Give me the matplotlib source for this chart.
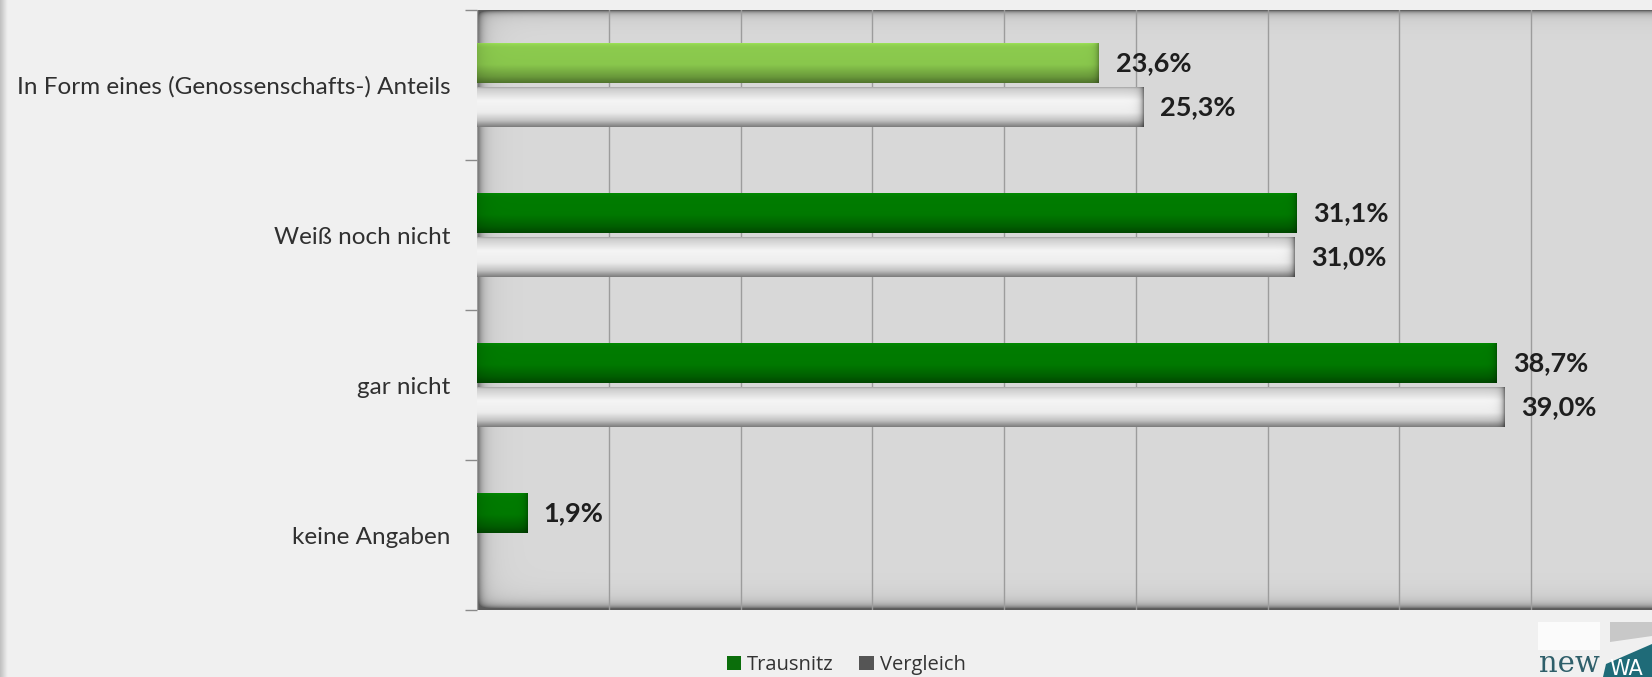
import numpy as np
import matplotlib
matplotlib.use("Agg")
import matplotlib.pyplot as plt
from matplotlib.patches import Patch, Rectangle, Polygon

# ---------------- data ----------------
categories = ["In Form eines (Genossenschafts-) Anteils", "Weiß noch nicht",
              "gar nicht", "keine Angaben"]
trausnitz = [23.6, 31.1, 38.7, 1.9]
vergleich = [25.3, 31.0, 39.0, np.nan]
series_names = ["Trausnitz", "Vergleich"]
trausnitz_colors = ["#8CCB4E", "#007C00", "#007C00", "#007C00"]
x_ticks = [0, 5, 10, 15, 20, 25, 30, 35, 40, 45]

W, H, DPI = 1652, 677, 100
fig = plt.figure(figsize=(W / DPI, H / DPI), dpi=DPI)
fig.patch.set_facecolor("#f0f0f0")

# left page shadow stripe
sx = np.linspace(0, 1, 40)
stripe = np.clip(0.75 + 0.20 * sx, 0, 0.94)[None, :, None] * np.ones((1, 1, 3))
bgax = fig.add_axes([0, 0, 8 / W, 1])
bgax.imshow(stripe, aspect="auto", extent=(0, 1, 0, 1))
bgax.axis("off")

L, R, T, B = 477, 1663, 10, 610
ax = fig.add_axes([L / W, (H - B) / H, (R - L) / W, (B - T) / H])
ax.set_xlim(0, 45)
ax.set_ylim(3.5, -0.5)

# plot-area background with inner shadows
aw, ah = R - L, B - T
xx = np.arange(aw)[None, :]
yy = np.arange(ah)[:, None]
base = 217.0
val = base - 95 * np.exp(-xx / 4.0) - 25 * np.exp(-xx / 14.0)
val = val - 100 * np.exp(-yy / 2.5) - 20 * np.exp(-yy / 10.0)
db = (ah - 1 - yy)
val = val - 120 * np.exp(-db / 3.0) - 40 * np.exp(-db / 10.0)
val = np.clip(val, 90, 230) / 255.0
bgimg = np.repeat(val[:, :, None], 3, axis=2)
ax.imshow(bgimg, aspect="auto", extent=(0, 1, 0, 1), transform=ax.transAxes,
          zorder=0.1, interpolation="bilinear")

for s in ax.spines.values():
    s.set_visible(False)
ax.set_xticks(x_ticks)
ax.tick_params(axis="x", length=0, labelbottom=False)
ax.xaxis.grid(True, color="#9c9c9c", lw=1.0)
ax.set_axisbelow(True)

y = np.arange(len(categories))
h = 0.268
off = 0.148
bars_t = ax.barh(y - off, trausnitz, height=h, color=trausnitz_colors, zorder=2)
bars_v = ax.barh(y + off, vergleich, height=h, color="#f0f0f0", zorder=2)

fig.canvas.draw()


def shade(patch, kind):
    x0, y0 = patch.get_xy()
    w, hh = patch.get_width(), patch.get_height()
    if not np.isfinite(w) or w <= 0:
        return
    p0 = ax.transData.transform((x0, y0))
    p1 = ax.transData.transform((x0 + w, y0 + hh))
    npx = max(int(abs(p1[0] - p0[0])), 2)
    npy = max(int(abs(p1[1] - p0[1])), 2)
    t = np.linspace(0, 1, npy)[:, None]
    c = np.arange(npx)[None, :]
    dr = (npx - 1 - c)
    if kind == "white":
        prof = np.interp(t, [0, 0.06, 0.35, 0.65, 0.85, 1.0],
                         [0.60, 0.80, 0.96, 0.93, 0.76, 0.50])
        edge = 1 - 0.45 * np.exp(-dr / 3.0)
        v = prof * edge
        img = np.repeat(v[:, :, None], 3, axis=2)
    else:
        rgb = np.array(matplotlib.colors.to_rgb(patch.get_facecolor()))
        prof = np.interp(t, [0, 0.05, 0.12, 0.55, 0.85, 1.0],
                         [1.15, 1.05, 1.0, 0.98, 0.76, 0.58])
        edge = 1 - 0.28 * np.exp(-dr / 3.0)
        left = 1 - 0.12 * np.exp(-c / 8.0)
        v = prof * edge * left
        img = np.clip(v[:, :, None] * rgb[None, None, :], 0, 1)
    im = ax.imshow(img, aspect="auto", origin="upper",
                   extent=(x0, x0 + w, y0 + hh, y0), zorder=2.5,
                   interpolation="bilinear")
    im.set_clip_path(patch)


for p in bars_t:
    shade(p, "green")
for p in bars_v:
    shade(p, "white")
ax.set_xlim(0, 45)
ax.set_ylim(3.5, -0.5)


def fmt(v):
    return f"{v:.1f}".replace(".", ",") + "%"


for bars, vals in ((bars_t, trausnitz), (bars_v, vergleich)):
    for p, v in zip(bars, vals):
        if not np.isfinite(v):
            continue
        ax.annotate(fmt(v), xy=(v, p.get_y() + p.get_height() / 2),
                    xytext=(12, 0), textcoords="offset points",
                    ha="left", va="center", fontsize=19.5, fontweight="bold",
                    family="Lato", color="#1e1e1e", zorder=5)

ax.set_yticks(y)
ax.set_yticklabels(categories, fontsize=17.5, family="Lato", color="#303030")
ax.tick_params(axis="y", length=0, pad=19)
ax.set_yticks(np.arange(-0.5, len(categories), 1.0), minor=True)
ax.tick_params(axis="y", which="minor", length=9, color="#8a8a8a", width=1)

# legend
handles = [Patch(facecolor="#0b6e0b", edgecolor="none"),
           Patch(facecolor="#555555", edgecolor="none")]
leg = fig.legend(handles, series_names, loc="center", ncol=2,
                 bbox_to_anchor=(846 / W, 1 - 665 / H), frameon=False,
                 prop={"family": "Open Sans", "size": 14.5},
                 handlelength=0.7, handleheight=0.7, handletextpad=0.3,
                 columnspacing=1.3)
for txt in leg.get_texts():
    txt.set_color("#333333")

# logo
fig.patches.append(Rectangle((1538 / W, 1 - 650 / H), 62 / W, 28 / H,
                             transform=fig.transFigure, facecolor="#fbfbfb",
                             edgecolor="none"))
fig.patches.append(Polygon([(1610 / W, 1 - 642 / H), (1610 / W, 1 - 622 / H),
                            (1652 / W, 1 - 622 / H), (1652 / W, 1 - 636 / H)],
                           closed=True, transform=fig.transFigure,
                           facecolor="#c8c8c8", edgecolor="none"))
fig.patches.append(Polygon([(1603 / W, 0), (1606 / W, 1 - 664 / H),
                            (1652 / W, 1 - 644 / H), (1652 / W, 0)],
                           closed=True, transform=fig.transFigure,
                           facecolor="#1f6b78", edgecolor="none"))
fig.text(1539 / W, 1 - 672 / H, "new", family="DejaVu Serif", fontsize=21,
         color="#2f5f6a", ha="left", va="baseline")
fig.text(1609 / W, 1 - 675 / H, "WA", family="DejaVu Sans", fontsize=15,
         color="white", ha="left", va="baseline")

fig.savefig("out.png", dpi=DPI, facecolor=fig.get_facecolor())
